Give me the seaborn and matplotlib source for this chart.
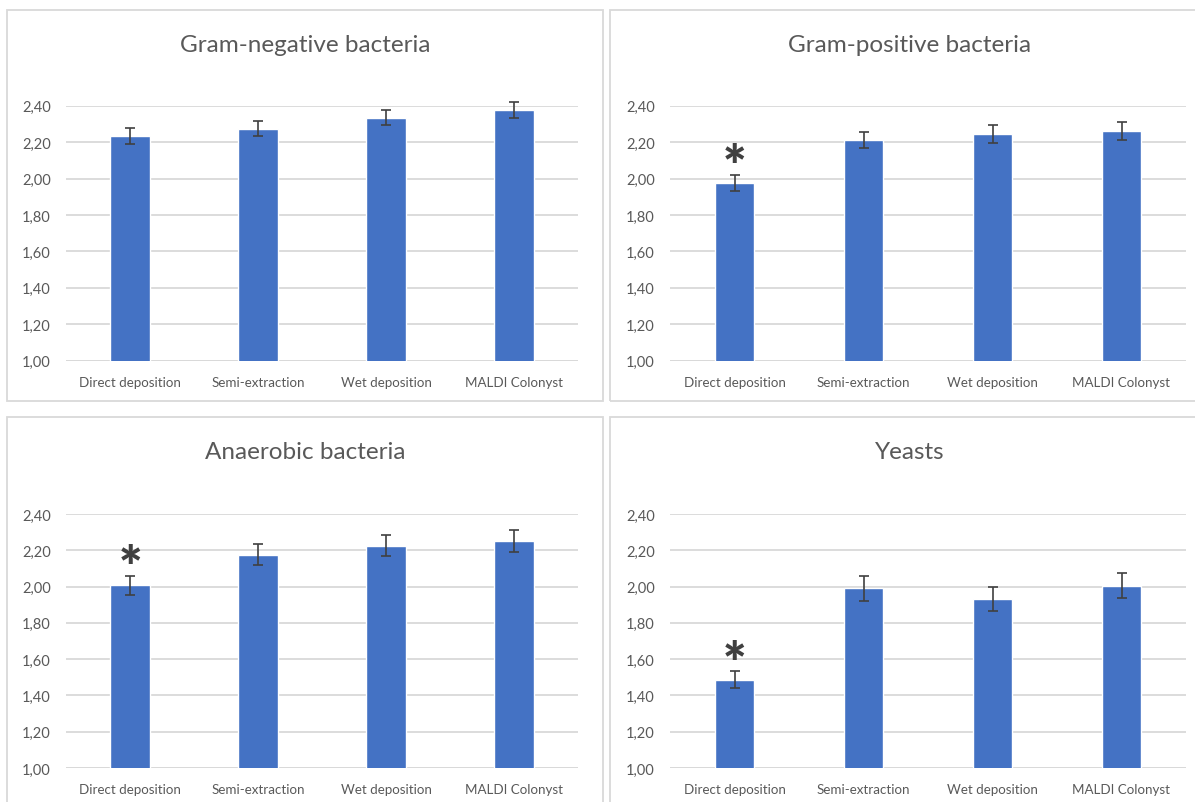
import numpy as np
import pandas as pd
import matplotlib
matplotlib.use("Agg")
import matplotlib.pyplot as plt
from matplotlib.ticker import FuncFormatter
from matplotlib.patches import Rectangle
import seaborn as sns

methods = ["Direct deposition", "Semi-extraction", "Wet deposition", "MALDI Colonyst"]
titles = ["Gram-negative bacteria", "Gram-positive bacteria", "Anaerobic bacteria", "Yeasts"]

gram_neg = [2.235, 2.273, 2.335, 2.378]
gram_neg_err = [0.044, 0.041, 0.043, 0.044]
gram_pos = [1.978, 2.211, 2.244, 2.260]
gram_pos_err = [0.044, 0.045, 0.048, 0.050]
anaerobic = [2.006, 2.176, 2.226, 2.250]
anaerobic_err = [0.055, 0.059, 0.058, 0.061]
yeasts = [1.487, 1.990, 1.930, 2.005]
yeasts_err = [0.047, 0.067, 0.065, 0.068]
significant = [[], [0], [0], [0]]

y_ticks = [1.0, 1.2, 1.4, 1.6, 1.8, 2.0, 2.2, 2.4]

series = [gram_neg, gram_pos, anaerobic, yeasts]
errors = [gram_neg_err, gram_pos_err, anaerobic_err, yeasts_err]

sns.set_theme(style="white")
plt.rcParams["font.family"] = ["Lato", "DejaVu Sans"]

W, H = 1195, 803
fig = plt.figure(figsize=(W / 100, H / 100), dpi=100)
fig.patch.set_facecolor("white")

BAR = "#4472C4"
GRID = "#D9D9D9"
TXT = "#595959"
ERR = "#404040"

# panel frames (pixel coords: left, top, right, bottom)
frames = [(7, 11, 603, 402), (610, 11, 1215, 402), (7, 418, 603, 820), (610, 418, 1215, 820)]
for (l, t, r, b) in frames:
    fig.patches.append(Rectangle((l / W, 1 - b / H), (r - l) / W, (b - t) / H,
                                 transform=fig.transFigure, fill=False,
                                 edgecolor=GRID, linewidth=1.3, zorder=0))

# plot areas (pixel coords: left, top(2.40), right, bottom(1.00))
areas = [(66, 106.7, 578, 361.7), (670, 106.7, 1186, 361.7),
         (66, 515, 578, 769), (670, 515, 1186, 769)]
title_y = [45, 45, 453, 453]
title_x = [(7 + 603) / 2, 910, (7 + 603) / 2, 910]

fmt = FuncFormatter(lambda v, p: f"{v:.2f}".replace(".", ","))

for i in range(4):
    l, t, r, b = areas[i]
    ax = fig.add_axes([l / W, 1 - b / H, (r - l) / W, (b - t) / H])
    df = pd.DataFrame({"method": methods, "value": series[i]})
    sns.barplot(data=df, x="method", y="value", color=BAR, width=0.31,
                saturation=1, ax=ax, zorder=2, errorbar=None)
    eb = ax.errorbar(np.arange(4), series[i], yerr=errors[i], fmt="none",
                     ecolor=ERR, elinewidth=1.2, capsize=3.4, capthick=1.2, zorder=3)
    for art in eb.lines[1] + eb.lines[2]:
        art.set_clip_on(False)
    for j in significant[i]:
        ax.text(j, series[i][j] + errors[i][j] + 0.035, "*", ha="center",
                va="center", fontsize=40, fontweight="heavy", color=ERR, zorder=4)
    ax.set_ylim(1.0, 2.4)
    ax.set_xlim(-0.5, 3.5)
    ax.set_yticks(y_ticks)
    ax.yaxis.set_major_formatter(fmt)
    ax.yaxis.grid(True, color=GRID, linewidth=1.3, zorder=0)
    ax.set_axisbelow(True)
    for s in ax.spines.values():
        s.set_visible(False)
    ax.axhline(1.0, color=GRID, linewidth=1.3, zorder=1)
    ax.tick_params(axis="y", length=0, pad=11, labelsize=10.5, labelcolor=TXT)
    ax.tick_params(axis="x", length=0, pad=11, labelsize=9.6, labelcolor=TXT)
    ax.set_xlabel("")
    ax.set_ylabel("")
    ax.set_facecolor("none")
    fig.text(title_x[i] / W, 1 - title_y[i] / H, titles[i], ha="center", va="center",
             fontsize=17.5, color=TXT)

fig.savefig("out.png", dpi=100, facecolor="white")
